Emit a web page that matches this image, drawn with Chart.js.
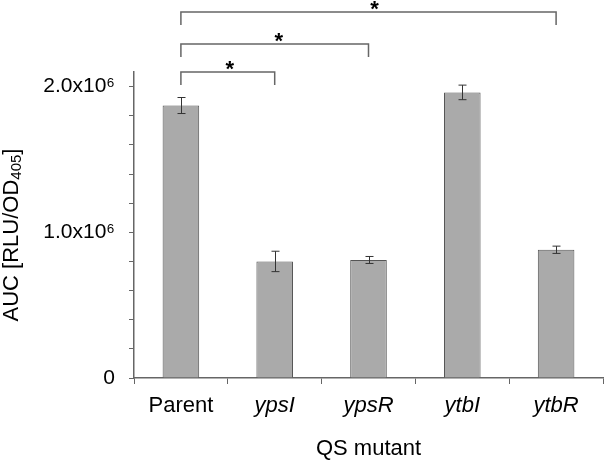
<!DOCTYPE html>
<html>
<head>
<meta charset="utf-8">
<script src="https://cdn.jsdelivr.net/npm/chart.js@4.4.0/dist/chart.umd.min.js"></script>
<style>
  html, body { margin: 0; padding: 0; background: #fff; }
</style>
</head>
<body>
<canvas id="qsChart" width="604" height="460"></canvas>
<script>
// data
const mutants = ['Parent', 'ypsI', 'ypsR', 'ytbI', 'ytbR'];
const aucMeans = [1870000, 800000, 810000, 1960000, 880000];
const aucErrors = [55000, 70000, 24000, 50000, 25000];
const yTickValues = [0, 200000, 400000, 600000, 800000, 1000000, 1200000, 1400000, 1600000, 1800000, 2000000];
const yTickLabels = ['0', '', '', '', '', '1.0x10⁶', '', '', '', '', '2.0x10⁶'];
const comparisons = [['Parent', 'ypsI'], ['Parent', 'ypsR'], ['Parent', 'ytbR']];
const sigMarks = ['*', '*', '*'];

const FAMILY = '"Liberation Sans", Arial, sans-serif';

// error bars drawn on top of each bar
const errorBars = {
  id: 'errorBars',
  afterDatasetsDraw(chart) {
    const ctx = chart.ctx;
    const y = chart.scales.y;
    const meta = chart.getDatasetMeta(0);
    ctx.save();
    ctx.strokeStyle = '#333';
    ctx.lineWidth = 1;
    meta.data.forEach((bar, i) => {
      const top = y.getPixelForValue(aucMeans[i] + aucErrors[i]);
      const bot = y.getPixelForValue(aucMeans[i] - aucErrors[i]);
      const x = Math.round(bar.x) + 0.5;
      ctx.beginPath();
      ctx.moveTo(x, top); ctx.lineTo(x, bot);
      ctx.moveTo(x - 4, top); ctx.lineTo(x + 4, top);
      ctx.moveTo(x - 4, bot); ctx.lineTo(x + 4, bot);
      ctx.stroke();
    });
    ctx.restore();
  }
};

// significance brackets above the plot
const brackets = {
  id: 'brackets',
  afterDraw(chart, args, opts) {
    const ctx = chart.ctx;
    const xs = chart.scales.x;
    const top = chart.chartArea.top;
    ctx.save();
    ctx.strokeStyle = '#666';
    ctx.lineWidth = 1.5;
    ctx.fillStyle = '#000';
    ctx.font = 'bold 22px ' + FAMILY;
    ctx.textAlign = 'center';
    ctx.textBaseline = 'alphabetic';
    comparisons.forEach((pair, i) => {
      const x1 = xs.getPixelForValue(mutants.indexOf(pair[0]));
      const x2 = xs.getPixelForValue(mutants.indexOf(pair[1]));
      const ly = top - opts.offsets[i];
      ctx.beginPath();
      ctx.moveTo(x1, ly + opts.leg);
      ctx.lineTo(x1, ly);
      ctx.lineTo(x2, ly);
      ctx.lineTo(x2, ly + opts.leg);
      ctx.stroke();
      ctx.fillText(sigMarks[i], (x1 + x2) / 2 + 2 + 2 * i, ly + 4);
    });
    ctx.restore();
  }
};

// rotated y title with subscript
const yTitle = {
  id: 'yTitle',
  afterDraw(chart) {
    const ctx = chart.ctx;
    const parts = [
      { t: 'AUC [RLU/OD', size: 22, dy: 0 },
      { t: '405', size: 15, dy: 5 },
      { t: ']', size: 22, dy: 0 }
    ];
    ctx.save();
    let total = 0;
    parts.forEach(p => { ctx.font = p.size + 'px ' + FAMILY; p.w = ctx.measureText(p.t).width; total += p.w; });
    ctx.translate(12, 235);
    ctx.rotate(-Math.PI / 2);
    ctx.fillStyle = '#000';
    ctx.textBaseline = 'middle';
    ctx.textAlign = 'left';
    let cx = -total / 2;
    parts.forEach(p => {
      ctx.font = p.size + 'px ' + FAMILY;
      ctx.fillText(p.t, cx, p.dy);
      cx += p.w;
    });
    ctx.restore();
  }
};

new Chart(document.getElementById('qsChart'), {
  type: 'bar',
  data: {
    labels: mutants,
    datasets: [{
      data: aucMeans,
      backgroundColor: '#aaaaaa',
      borderColor: '#555',
      borderWidth: 1,
      barPercentage: 0.39,
      categoryPercentage: 1
    }]
  },
  options: {
    responsive: false,
    animation: false,
    layout: { padding: { top: 72, right: 1, left: 0, bottom: 0 } },
    plugins: {
      legend: { display: false },
      tooltip: { enabled: false },
      brackets: { offsets: [0, 28, 60], leg: 13 }
    },
    scales: {
      x: {
        grid: { offset: true, drawOnChartArea: false, drawTicks: true, tickLength: 6, color: '#666' },
        border: { color: '#666', width: 1.5 },
        ticks: {
          color: '#000',
          padding: 9,
          font: (c) => ({ family: FAMILY, size: 22, style: c.index === 0 ? 'normal' : 'italic' })
        },
        title: {
          display: true, text: 'QS mutant', color: '#000',
          font: { family: FAMILY, size: 22 }, padding: { top: 0, bottom: -2 }
        },
        afterFit: (s) => { s.height = 82; }
      },
      y: {
        min: 0,
        max: 2100000,
        afterBuildTicks: (s) => { s.ticks = yTickValues.map(v => ({ value: v })); },
        grid: { drawOnChartArea: false, tickLength: 5, color: '#666' },
        border: { color: '#666', width: 1.5 },
        ticks: {
          autoSkip: false,
          padding: 14,
          color: '#000',
          font: { family: FAMILY, size: 21 },
          callback: (v, i) => yTickLabels[i]
        },
        afterFit: (s) => { s.width = 134; }
      }
    }
  },
  plugins: [errorBars, brackets, yTitle]
});
</script>
</body>
</html>
